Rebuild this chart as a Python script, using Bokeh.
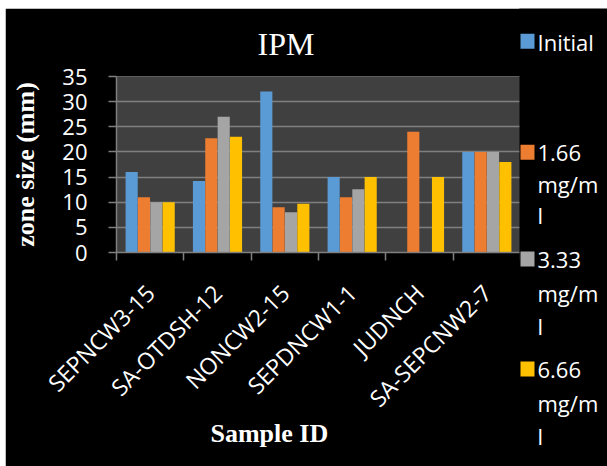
import numpy as np
from bokeh.plotting import figure
from bokeh.layouts import row
from bokeh.models import (ColumnDataSource, FixedTicker, Range1d, Title, Label, BoxAnnotation)
from bokeh.transform import dodge
from bokeh.embed import file_html
from bokeh.resources import INLINE

categories = ["SEPNCW3-15", "SA-OTDSH-12", "NONCW2-15", "SEPDNCW1-1", "JUDNCH", "SA-SEPCNW2-7"]
legend_lines = [["Initial"], ["1.66", "mg/m", "l"], ["3.33", "mg/m", "l"], ["6.66", "mg/m", "l"]]
initial = [16, 14.2, 32, 15, float("nan"), 20]
conc_166 = [11, 22.7, 9, 11, 24, 20]
conc_333 = [10, 27, 8, 12.6, float("nan"), 20]
conc_666 = [10, 23, 9.7, 15, 15, 18]
y_ticks = [0, 5, 10, 15, 20, 25, 30, 35]

colors = ["#5B9BD5", "#ED7D31", "#A5A5A5", "#FFC000"]
offsets = [-0.275, -0.092, 0.092, 0.275]

FONT = "Open Sans"
SERIF = "Liberation Serif"
GRID = "#7f7f7f"

pos = list(np.arange(len(categories)) + 0.5)
source = ColumnDataSource(dict(x=pos, s0=initial, s1=conc_166, s2=conc_333, s3=conc_666))

p = figure(width=515, height=458, output_backend="svg", toolbar_location=None,
           x_range=Range1d(0, len(categories)), y_range=Range1d(0, 35),
           min_border_left=111, min_border_right=0, min_border_top=66, min_border_bottom=214,
           background_fill_color="#404040", border_fill_color="black",
           outline_line_color=None)
p.margin = (8, 0, 0, 5)
p.frame_align = False

for i, key in enumerate(["s0", "s1", "s2", "s3"]):
    p.vbar(x=dodge("x", offsets[i], range=p.x_range), top=key, bottom=0, width=0.18,
           source=source, fill_color=colors[i], line_color=None)

# title
p.title.text = "IPM"
p.title.text_font = SERIF
p.title.text_font_size = "32px"
p.title.text_font_style = "normal"
p.title.text_color = "white"
p.title.align = "left"
p.title.offset = 141
p.title.standoff = 30

# x axis
xa = p.xaxis[0]
xa.ticker = FixedTicker(ticks=pos, minor_ticks=list(range(len(categories) + 1)))
xa.major_label_overrides = {float(v): c for v, c in zip(pos, categories)}
xa.major_label_orientation = np.pi / 4
xa.major_label_text_font = FONT
xa.major_label_text_font_size = "23px"
xa.major_label_text_color = "white"
xa.major_label_standoff = 28
xa.major_tick_line_color = None
xa.minor_tick_line_color = GRID
xa.minor_tick_line_width = 1.5
xa.minor_tick_out = 8
xa.minor_tick_in = 0
xa.axis_line_color = GRID
xa.axis_line_width = 1.5

# x axis title
p.add_layout(Title(text="Sample ID", align="left", vertical_align="top", offset=94, standoff=-18,
                   text_font=SERIF, text_font_size="26px", text_font_style="bold",
                   text_color="white"), "below")

# y axis
ya = p.yaxis[0]
ya.ticker = FixedTicker(ticks=y_ticks)
ya.major_label_text_font = FONT
ya.major_label_text_font_size = "22px"
ya.major_label_text_color = "white"
ya.major_label_standoff = 21
ya.major_tick_line_color = GRID
ya.major_tick_line_width = 1.5
ya.major_tick_out = 8
ya.major_tick_in = 0
ya.minor_tick_line_color = None
ya.axis_line_color = GRID
ya.axis_line_width = 1.5
ya.axis_label = "zone size (mm)"
ya.axis_label_text_font = SERIF
ya.axis_label_text_font_size = "26px"
ya.axis_label_text_font_style = "bold"
ya.axis_label_text_color = "white"
ya.axis_label_standoff = 19

p.xgrid.grid_line_color = None
p.ygrid.grid_line_color = GRID
p.ygrid.grid_line_width = 1.5

# legend panel (separate small figure so nothing is clipped)
LW, LH = 88, 458
lg = figure(width=LW, height=LH, output_backend="svg", toolbar_location=None,
            x_range=Range1d(0, LW), y_range=Range1d(0, LH),
            x_axis_type=None, y_axis_type=None, min_border=0,
            background_fill_color="black", border_fill_color="black",
            outline_line_color=None)
lg.margin = (8, 0, 0, -1)
lg.frame_align = False
lg.xgrid.visible = False
lg.ygrid.visible = False

first_baselines = [417.7, 306.7, 200, 90]
line_gaps = [0, 31.3, 33, 33]
TEXT_SHIFT = 7
for k, lines in enumerate(legend_lines):
    b = first_baselines[k]
    lg.add_layout(BoxAnnotation(left=1, right=15, bottom=b, top=b + 15,
                                fill_color=colors[k], fill_alpha=1, line_color=None))
    for j, t in enumerate(lines):
        lg.add_layout(Label(x=18, y=b + TEXT_SHIFT - j * line_gaps[k], text=t,
                            text_font=FONT, text_font_size="22px", text_color="white",
                            text_align="left", text_baseline="alphabetic"))

layout = row(p, lg)
open("out.html", "w").write(file_html(layout, INLINE))
